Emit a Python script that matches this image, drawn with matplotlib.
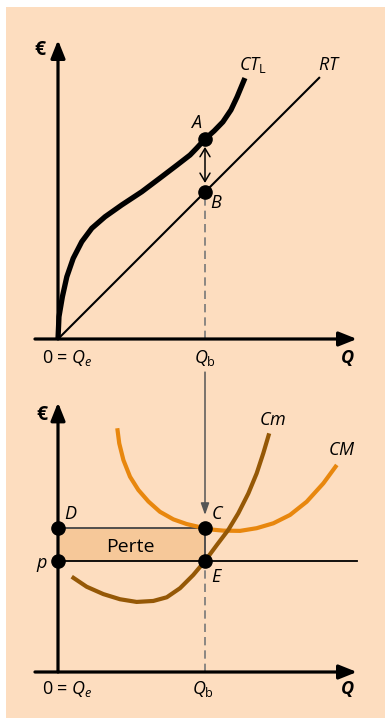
import matplotlib
matplotlib.use('Agg')
import matplotlib.pyplot as plt
from matplotlib.patches import Rectangle

plt.rcParams['font.family'] = ['Open Sans', 'DejaVu Sans']
plt.rcParams['mathtext.fontset'] = 'custom'
plt.rcParams['mathtext.rm'] = 'Open Sans'
plt.rcParams['mathtext.it'] = 'Open Sans:italic'
plt.rcParams['mathtext.bf'] = 'Open Sans:bold'

# --- data (units: Q_b = 6) ---
q_b = 6.0
# long run total cost CT_L
ct_q = [0.0, 0.04, 0.18, 0.36, 0.62, 0.97, 1.38, 1.92, 2.60, 3.42, 4.23, 4.86, 5.39,
        5.67, 6.0, 6.37, 6.73, 7.06, 7.31, 7.63]
ct_cost = [0.0, 0.91, 1.73, 2.54, 3.29, 3.97, 4.52, 4.99, 5.47, 6.01, 6.62, 7.10, 7.51,
           7.80, 8.16, 8.49, 8.86, 9.35, 9.88, 10.65]
# total revenue RT = price * Q
rt_q = [0.0, 10.69]
rt_price = 1.0
# average cost CM
avg_q = [2.42, 2.50, 2.67, 2.94, 3.28, 3.69, 4.16, 4.71, 5.25, 5.80, 6.0, 6.20, 6.75,
         7.43, 8.11, 8.79, 9.47, 10.15, 10.83, 11.38]
avg_cost = [9.95, 9.33, 8.65, 7.97, 7.43, 6.96, 6.54, 6.23, 6.04, 5.91, 5.87, 5.82, 5.77,
            5.76, 5.87, 6.07, 6.41, 6.95, 7.70, 8.45]
# marginal cost Cm
mc_q = [0.56, 1.17, 1.85, 2.53, 3.21, 3.89, 4.44, 4.98, 5.52, 6.0, 6.48, 6.95, 7.36,
        7.77, 8.11, 8.38, 8.62]
mc_cost = [3.89, 3.48, 3.18, 2.97, 2.86, 2.90, 3.05, 3.42, 3.96, 4.53, 5.18, 5.80, 6.48,
           7.29, 8.11, 8.93, 9.74]
price = 4.53
avg_at_qb = 5.87

bg = '#FDDDBF'
orange = '#E8870E'
brown = '#955806'
loss_fill = '#F6C899'

W, H = 385, 719
fig = plt.figure(figsize=(W / 100, H / 100), dpi=100)
fig.patch.set_facecolor('white')
fig.add_artist(Rectangle((6 / W, 1 / H), 379 / W, 711 / H, transform=fig.transFigure,
                         facecolor=bg, edgecolor='none', zorder=-10))

scale = 24.5  # pixels per unit


def px_axes(x0, y0, x1, y1, ox, oy):
    ax = fig.add_axes([x0 / W, 1 - y1 / H, (x1 - x0) / W, (y1 - y0) / H])
    ax.set_xlim((x0 - ox) / scale, (x1 - ox) / scale)
    ax.set_ylim((oy - y1) / scale, (oy - y0) / scale)
    ax.axis('off')
    ax.patch.set_alpha(0)
    return ax


def draw_axes(ax, xmin, xmax, ymax):
    style = '-|>,head_length=0.6,head_width=0.24'
    ax.annotate('', xy=(xmax, 0), xytext=(xmin, 0),
                arrowprops=dict(arrowstyle=style, lw=2.3, color='black',
                                mutation_scale=18, shrinkA=0, shrinkB=0))
    ax.annotate('', xy=(0, ymax), xytext=(0, 0),
                arrowprops=dict(arrowstyle=style, lw=2.3, color='black',
                                mutation_scale=18, shrinkA=0, shrinkB=0))


lab = dict(fontsize=13, ha='center', va='center', style='italic')
curve = dict(solid_capstyle='butt', solid_joinstyle='round')

# ---------------- top panel ----------------
top = px_axes(6, 7, 385, 365, 58, 339)
draw_axes(top, -0.94, 12.2, 12.2)
top.plot(rt_q, [rt_price * q for q in rt_q], color='black', lw=1.5, **curve)
top.plot(ct_q, ct_cost, color='black', lw=3.8, **curve)
top.plot([q_b, q_b], [0, rt_price * q_b], color='#777777', lw=1.2, dashes=(5, 3))
top.annotate('', xy=(q_b, 6.37), xytext=(q_b, 7.84),
             arrowprops=dict(arrowstyle='<->,head_length=0.5,head_width=0.3', lw=1.1,
                             color='black', mutation_scale=12, shrinkA=0, shrinkB=0))
top.plot([q_b, q_b], [8.16, rt_price * q_b], 'o', color='black', ms=9.5)

top.text(-0.72, 11.8, '€', fontsize=14, fontweight='bold', ha='center', va='center')
top.text(7.95, 11.2, r'$CT_{\mathrm{L}}$', fontsize=13, ha='center', va='center')
top.text(11.07, 11.2, r'$RT$', fontsize=13, ha='center', va='center')
top.text(5.63, 8.8, 'A', **lab)
top.text(6.45, 5.57, 'B', **lab)
top.text(0.39, -0.76, r'0 = $Q_e$', fontsize=13, ha='center', va='center')
top.text(q_b, -0.76, r'$Q_{\mathrm{b}}$', fontsize=13, ha='center', va='center')
top.text(11.8, -0.76, 'Q', fontsize=13, ha='center', va='center', style='italic',
         fontweight='bold')

# ---------------- bottom panel ----------------
bot = px_axes(6, 365, 385, 718, 58, 672)
bot.add_patch(Rectangle((0, price), q_b, avg_at_qb - price, facecolor=loss_fill,
                        edgecolor='none', zorder=0))
bot.plot([0, q_b], [avg_at_qb, avg_at_qb], color='#444444', lw=1.3)
bot.plot([q_b, q_b], [price, avg_at_qb], color='#444444', lw=1.3)
bot.plot([0, 12.2], [price, price], color='black', lw=1.3)
bot.plot([q_b, q_b], [0, price], color='#777777', lw=1.2, dashes=(5, 3))
draw_axes(bot, -0.94, 12.2, 11.0)
bot.annotate('', xy=(q_b, 6.41), xytext=(q_b, 12.24),
             arrowprops=dict(arrowstyle='-|>,head_length=0.7,head_width=0.25', lw=1.1,
                             color='#555555', mutation_scale=10, shrinkA=0, shrinkB=0))
bot.plot(avg_q, avg_cost, color=orange, lw=3.0, **curve)
bot.plot(mc_q, mc_cost, color=brown, lw=3.0, **curve)
bot.plot([0, 0, q_b, q_b], [avg_at_qb, price, avg_at_qb, price], 'o', color='black', ms=9.5)

bot.text(-0.65, 10.5, '€', fontsize=14, fontweight='bold', ha='center', va='center')
bot.text(8.75, 10.28, r'$Cm$', fontsize=13, ha='center', va='center')
bot.text(11.6, 9.06, r'$CM$', fontsize=13, ha='center', va='center')
bot.text(0.49, 6.43, 'D', **lab)
bot.text(6.49, 6.43, 'C', **lab)
bot.text(-0.65, 4.45, 'p', **lab)
bot.text(6.45, 3.86, 'E', **lab)
bot.text(2.94, 5.12, 'Perte', fontsize=14, ha='center', va='center', fontweight='medium')
bot.text(0.39, -0.69, r'0 = $Q_e$', fontsize=13, ha='center', va='center')
bot.text(q_b - 0.08, -0.69, r'$Q_{\mathrm{b}}$', fontsize=13, ha='center', va='center')
bot.text(11.8, -0.69, 'Q', fontsize=13, ha='center', va='center', style='italic',
         fontweight='bold')

fig.savefig('out.png', dpi=100, facecolor=fig.get_facecolor())
